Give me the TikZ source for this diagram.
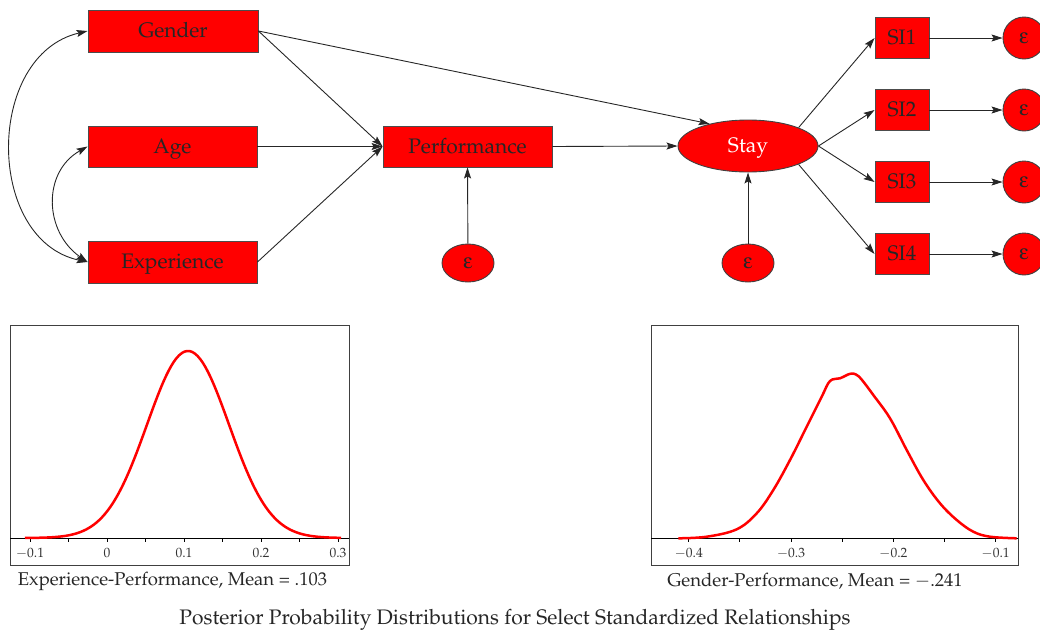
\documentclass[tikz,border=0pt]{standalone}
\usepackage[T1]{fontenc}
\usepackage{mathpazo}
\usepackage[Symbol]{upgreek}
\usetikzlibrary{arrows.meta,shapes.geometric}
\begin{document}
\begin{tikzpicture}[x=1pt,y=-1pt,
  box/.style={draw=black!70, fill=red, line width=0.9pt, inner sep=0pt, text=black!85, text height=16pt, text depth=3pt, font=\fontsize{21}{24}\selectfont},
  latent/.style={ellipse, draw=black!75, fill=red, line width=0.9pt, inner sep=0pt, text height=15pt, text depth=3pt, font=\fontsize{21}{24}\selectfont},
  errnode/.style={ellipse, draw=black!75, fill=red, line width=0.9pt, inner sep=0pt, text=black!85, font=\fontsize{21}{24}\selectfont},
  conn/.style={draw=black!85, line width=0.9pt, -{Stealth[length=11pt,width=7pt,inset=2pt]}},
  biconn/.style={draw=black!85, line width=0.9pt, {Stealth[length=11pt,width=7pt,inset=2pt]}-{Stealth[length=11pt,width=7pt,inset=2pt]}},
  frame/.style={draw=black!75, line width=1pt},
  axisline/.style={draw=black, line width=0.9pt},
  density/.style={draw=red, line width=2.5pt},
  ticklabel/.style={font=\fontsize{13.5}{15}\selectfont, text=black!80},
  caption/.style={font=\fontsize{18.5}{21}\selectfont, text=black!85},
  titletext/.style={font=\fontsize{21}{24}\selectfont, text=black!85}
]
\useasboundingbox (0,0) rectangle (1040,632);
% observed variables
\node[box, minimum width=170pt, minimum height=42pt] (gender) at (173,31) {Gender};
\node[box, minimum width=169pt, minimum height=41pt] (age) at (172.5,146.5) {Age};
\node[box, minimum width=169pt, minimum height=42pt] (exp) at (172.5,262) {Experience};
\node[box, minimum width=169pt, minimum height=41pt] (perf) at (467.5,146.5) {Performance};
\node[latent, minimum width=140pt, minimum height=52pt, text=white] (stay) at (748,146) {Stay};
\node[errnode, minimum width=52pt, minimum height=38pt] (e1) at (468,263) {$\upepsilon$};
\node[errnode, minimum width=52pt, minimum height=38pt] (e2) at (748,263) {$\upepsilon$};
\foreach \n/\yy in {1/38,2/110,3/182,4/254}{
  \node[box, minimum width=54pt, minimum height=41pt] (si\n) at (902,\yy) {SI\n};
  \node[errnode, circle, minimum size=42pt] (es\n) at (1024,\yy) {$\upepsilon$};
  \draw[conn] (si\n.east) -- (es\n);
}
% connectors
\draw[biconn] (gender.west) .. controls (-15,55) and (-15,240) .. (exp.west);
\draw[biconn] (age.west) .. controls (42,172) and (44,232) .. (exp.west);
\draw[conn] (gender.east) -- (perf.west);
\draw[conn] (age.east) -- (perf.west);
\draw[conn] (exp.east) -- (perf.west);
\draw[conn] (gender.east) -- (stay.150);
\draw[conn] (perf.east) -- (stay.west);
\draw[conn] (e1) -- (perf.south);
\draw[conn] (e2) -- (stay.south);
\draw[conn] (stay.20) -- (si1.west);
\draw[conn] (stay.east) -- (si2.west);
\draw[conn] (stay.east) -- (si3.west);
\draw[conn] (stay.-20) -- (si4.west);
% left plot
\draw[frame] (10,325) rectangle (349,565);
\draw[axisline] (10,538) -- (349,538);
\foreach \i in {-2,...,6}{ \draw[axisline] (107+38.5*\i,538) -- (107+38.5*\i,542); }
\foreach \i/\t in {-2/$-0.1$,0/$0$,2/$0.1$,4/$0.2$,6/$0.3$}{
  \node[ticklabel] at (107+38.5*\i,553) {\t};
}
\draw[density] plot[domain=25:341, samples=120, smooth] (\x,{538-187*exp(-((\x-188)/41)^2/2)});
\node[caption] (capl) at (172.5,581) {Experience-Performance, Mean = .103};
% right plot
\draw[frame] (651,325) rectangle (1018,565);
\draw[axisline] (651,538) -- (1018,538);
\foreach \i in {-2,...,4}{ \draw[axisline] (791+51.15*\i,538) -- (791+51.15*\i,542); }
\foreach \i/\t in {-2/$-0.4$,0/$-0.3$,2/$-0.2$,4/$-0.1$}{
  \node[ticklabel] at (791+51.15*\i,553) {\t};
}
\draw[density] plot[smooth, tension=0.6] coordinates {(678.3,538.3) (706.7,536.7) (736.7,529.3) (756.7,513.3) (773.3,490) (790,460) (806.7,426.7) (821.7,396.7) (830,381) (840,378.3) (850,373.8) (856,374.5) (862,380) (873.3,395) (890,418.3) (906.7,450) (923.3,480) (940,503.3) (956.7,520) (973.3,531.7) (990,536.7) (1016.7,538.3)};
\node[caption] (capr) at (815,581) {Gender-Performance, Mean = $-$.241};
\node[titletext] (title) at (515,620) {Posterior Probability Distributions for Select Standardized Relationships};
\end{tikzpicture}
\end{document}
